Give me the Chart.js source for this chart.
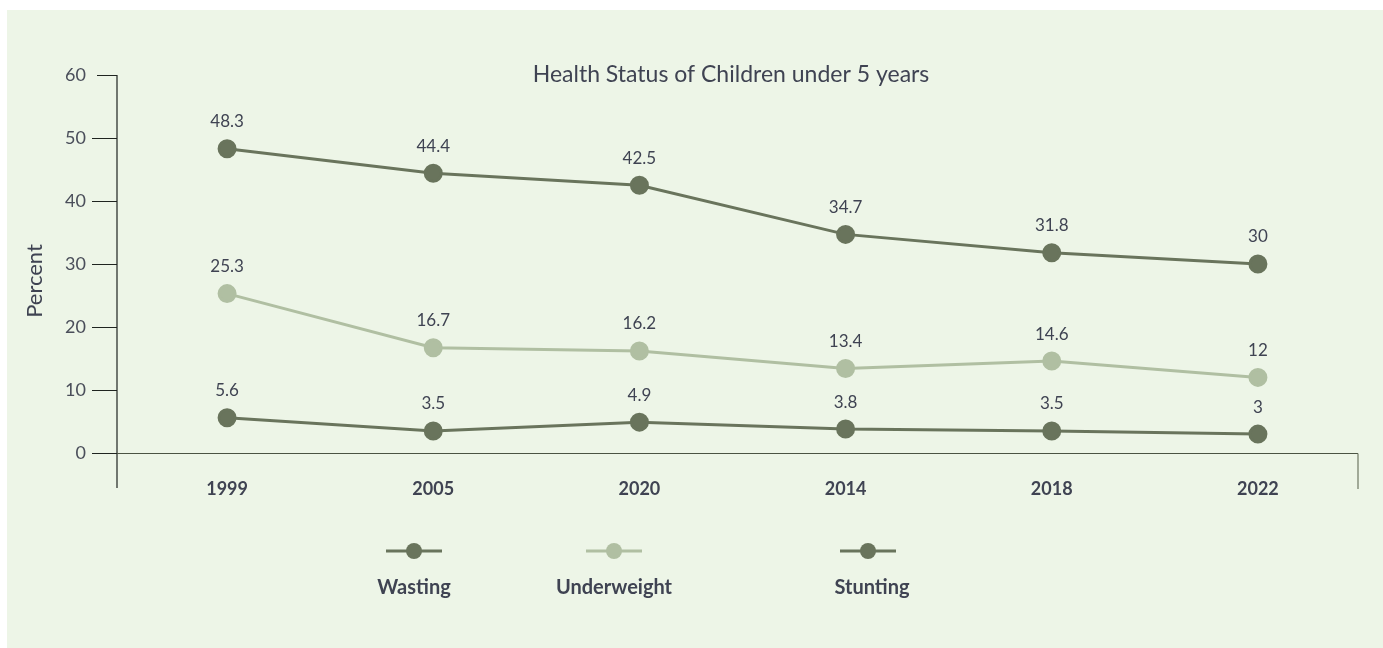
<!DOCTYPE html>
<html>
<head>
<meta charset="utf-8">
<script src="https://cdn.jsdelivr.net/npm/chart.js@4.4.1/dist/chart.umd.min.js"></script>
<style>
  html, body { margin: 0; padding: 0; background: #ffffff; }
  #wrap { position: relative; width: 1383px; height: 648px; }
</style>
</head>
<body>
<div id="wrap"><canvas id="chart" width="1383" height="648"></canvas></div>
<script>
// Survey years and prevalence (%) among children under five
const years = ['1999', '2005', '2020', '2014', '2018', '2022'];
const wasting = [5.6, 3.5, 4.9, 3.8, 3.5, 3];
const underweight = [25.3, 16.7, 16.2, 13.4, 14.6, 12];
const stunting = [48.3, 44.4, 42.5, 34.7, 31.8, 30];
const yTicks = [0, 10, 20, 30, 40, 50, 60];

const FONT = 'Lato, "Noto Sans", sans-serif';
const TEXT = '#3f4352';
const DARK = '#69745c';
const LIGHT = '#b0bfa2';
const BG = '#edf5e7';

// Panel background, axis frame, title, value labels and legend
const decor = {
  id: 'decor',
  beforeDraw(chart) {
    const ctx = chart.ctx;
    ctx.save();
    ctx.fillStyle = '#ffffff';
    ctx.fillRect(0, 0, chart.width, chart.height);
    ctx.fillStyle = BG;
    ctx.fillRect(7, 10, chart.width - 7, chart.height - 10);
    ctx.restore();
  },
  afterDraw(chart) {
    const ctx = chart.ctx;
    const y = chart.scales.y;
    const left = 117, right = 1358;
    const y0 = y.getPixelForValue(0);
    const yTop = y.getPixelForValue(60);
    ctx.save();
    // y axis with tick marks
    ctx.strokeStyle = '#1f2420';
    ctx.lineWidth = 1.2;
    ctx.beginPath();
    ctx.moveTo(left, yTop);
    ctx.lineTo(left, 488);
    yTicks.forEach(v => {
      const py = Math.round(y.getPixelForValue(v)) + 0.5;
      ctx.moveTo(v === 60 ? 97 : 92, py);
      ctx.lineTo(left, py);
    });
    ctx.stroke();
    // x axis baseline and right end
    ctx.strokeStyle = '#4b5343';
    ctx.beginPath();
    ctx.moveTo(left, Math.round(y0) + 0.5);
    ctx.lineTo(right, Math.round(y0) + 0.5);
    ctx.stroke();
    ctx.strokeStyle = '#6e7764';
    ctx.beginPath();
    ctx.moveTo(right, Math.round(y0) + 0.5);
    ctx.lineTo(right, 489);
    ctx.stroke();

    // title
    ctx.fillStyle = TEXT;
    ctx.font = '23px ' + FONT;
    ctx.textAlign = 'center';
    ctx.textBaseline = 'middle';
    ctx.fillText('Health Status of Children under 5 years', 731, 75);

    // y axis title
    ctx.save();
    ctx.translate(35, 281);
    ctx.rotate(-Math.PI / 2);
    ctx.font = '22px ' + FONT;
    ctx.fillText('Percent', 0, 0);
    ctx.restore();

    // value labels above each point
    ctx.font = '17px ' + FONT;
    chart.data.datasets.forEach((ds, i) => {
      const meta = chart.getDatasetMeta(i);
      meta.data.forEach((pt, j) => {
        ctx.fillText(String(ds.data[j]), pt.x, pt.y - 27);
      });
    });

    // legend: line + marker, name underneath
    const legendX = [414, 614, 868];
    chart.data.datasets.forEach((ds, i) => {
      const cx = legendX[i];
      ctx.strokeStyle = ds.borderColor;
      ctx.lineWidth = 3;
      ctx.beginPath();
      ctx.moveTo(cx - 28, 551);
      ctx.lineTo(cx + 28, 551);
      ctx.stroke();
      ctx.fillStyle = ds.pointBackgroundColor;
      ctx.beginPath();
      ctx.arc(cx, 551, 8, 0, Math.PI * 2);
      ctx.fill();
      ctx.fillStyle = TEXT;
      ctx.font = 'bold 20px ' + FONT;
      ctx.fillText(ds.label, cx + (i === 2 ? 4 : 0), 588);
    });
    ctx.restore();
  }
};

function series(label, data, color) {
  return {
    label: label,
    data: data,
    borderColor: color,
    backgroundColor: color,
    pointBackgroundColor: color,
    pointBorderColor: color,
    borderWidth: 3,
    pointRadius: 8,
    pointHoverRadius: 8,
    tension: 0,
    fill: false
  };
}

new Chart(document.getElementById('chart'), {
  type: 'line',
  data: {
    labels: years,
    datasets: [
      series('Wasting', wasting, DARK),
      series('Underweight', underweight, LIGHT),
      series('Stunting', stunting, DARK)
    ]
  },
  options: {
    responsive: false,
    animation: false,
    devicePixelRatio: 1,
    layout: { padding: { left: 0, right: 22, top: 75, bottom: 0 } },
    plugins: {
      legend: { display: false },
      title: { display: false },
      tooltip: { enabled: false }
    },
    scales: {
      x: {
        offset: true,
        grid: { display: false },
        border: { display: false },
        ticks: {
          color: TEXT,
          font: { family: FONT, size: 18, weight: 'bold' },
          padding: 17,
          maxRotation: 0
        },
        afterFit(scale) { scale.height = 195; }
      },
      y: {
        min: 0,
        max: 60,
        grid: { display: false },
        border: { display: false },
        afterBuildTicks(scale) { scale.ticks = yTicks.map(v => ({ value: v })); },
        ticks: {
          color: '#4a4e5a',
          font: { family: FONT, size: 18 },
          padding: 30
        },
        afterFit(scale) { scale.width = 124; }
      }
    }
  },
  plugins: [decor]
});
</script>
</body>
</html>
